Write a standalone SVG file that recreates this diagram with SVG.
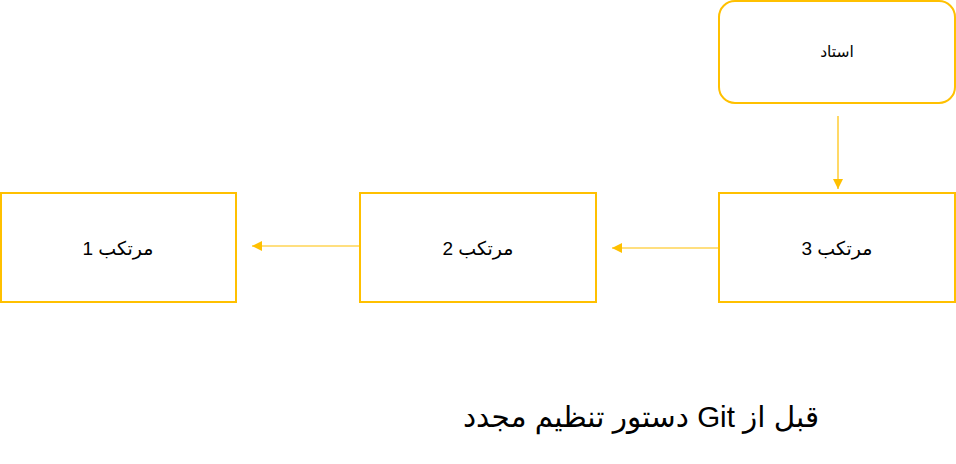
<svg xmlns="http://www.w3.org/2000/svg" width="956" height="464" viewBox="0 0 956 464">
<style>
.box{fill:#fff;stroke:#FFC000;stroke-width:2}
.lbl{font-family:"Liberation Sans","DejaVu Sans",sans-serif;fill:#000;text-anchor:middle;direction:rtl;unicode-bidi:embed}
.conn{stroke:#FFC000;stroke-width:1.2;fill:none}
</style>
<defs>
<marker id="ah" viewBox="0 0 10 10" refX="10" refY="5" markerWidth="10" markerHeight="10" markerUnits="userSpaceOnUse" orient="auto">
<path d="M0,0 L10,5 L0,10 z" fill="#FFC000"/>
</marker>
</defs>
<rect width="956" height="464" fill="#fff"/>
<g id="node-ostad">
<rect class="box" x="719" y="1" width="236" height="102" rx="16"/>
<text class="lbl" x="837" y="57" font-size="15.5">استاد</text>
</g>
<g id="node-c3">
<rect class="box" x="719" y="193" width="236" height="109"/>
<text class="lbl" x="837" y="255" font-size="19">مرتکب 3</text>
</g>
<g id="node-c2">
<rect class="box" x="360" y="193" width="236" height="109"/>
<text class="lbl" x="478" y="255" font-size="19">مرتکب 2</text>
</g>
<g id="node-c1">
<rect class="box" x="1" y="193" width="235" height="109"/>
<text class="lbl" x="118" y="255" font-size="19">مرتکب 1</text>
</g>
<g id="connectors">
<line class="conn" x1="838" y1="116" x2="838" y2="189" marker-end="url(#ah)"/>
<line class="conn" x1="718" y1="248" x2="612" y2="248" marker-end="url(#ah)"/>
<line class="conn" x1="359" y1="246" x2="252" y2="246" marker-end="url(#ah)"/>
</g>
<text class="lbl" x="641" y="427" font-size="29.5">قبل از Git دستور تنظیم مجدد</text>
</svg>
